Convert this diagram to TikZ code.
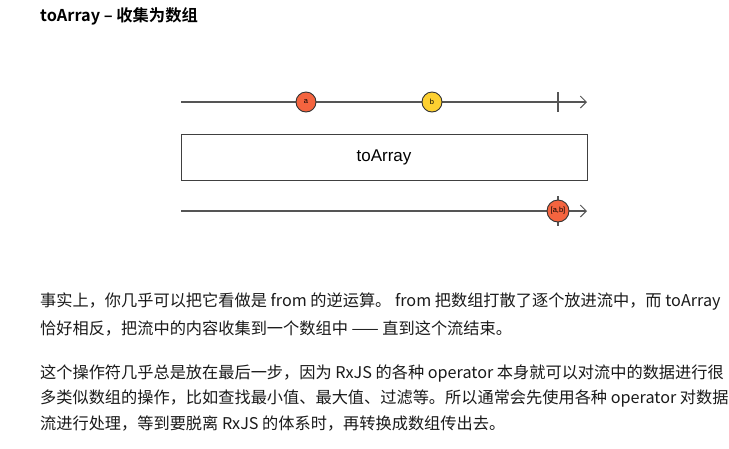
\documentclass[tikz,border=0pt]{standalone}
\usepackage{fontspec}
\setmainfont{Noto Sans CJK SC}[BoldFont={Noto Sans CJK SC Bold}]
\newfontfamily\lsans{Liberation Sans}
\usetikzlibrary{arrows.meta}
\definecolor{lineg}{HTML}{555555}
\definecolor{ballred}{HTML}{F4643F}
\definecolor{ballyel}{HTML}{FDD031}
\definecolor{txt}{HTML}{1A1A1A}
\tikzset{
  timeline/.style={draw=lineg, line width=1.1pt, -{Straight Barb[length=6pt,width=12pt,line width=1pt]}},
  tick/.style={draw=lineg, line width=1.1pt},
  ball/.style={circle, draw=black!80, line width=0.9pt, minimum size=20pt, inner sep=0pt, font=\lsans\fontsize{7.5}{8}\selectfont},
  opbox/.style={draw=black!75, line width=0.9pt, minimum width=406pt, minimum height=46pt, inner sep=0pt, font=\lsans\fontsize{17}{19}\selectfont},
  para/.style={anchor=west, inner sep=0pt, text=txt, font=\fontsize{16.2}{18}\selectfont},
  titlet/.style={anchor=west, inner sep=0pt, text=black, font=\bfseries\fontsize{16.3}{18}\selectfont}
}
\begin{document}
\begin{tikzpicture}[x=1pt,y=-1pt]
\useasboundingbox[fill=white] (0,0) rectangle (729,448);
\node[titlet] (title) at (40,16) {toArray – 收集为数组};
% top timeline
\coordinate (t1s) at (181,102);
\coordinate (t1e) at (587,102);
\draw[timeline] (t1s) -- (t1e);
\coordinate (c1a) at (558,92);
\coordinate (c1b) at (558,112);
\draw[tick] (c1a) -- (c1b);
\node[ball, fill=ballred] (a) at (306,102) {a};
\node[ball, fill=ballyel] (b) at (432,102) {b};
% operator box
\node[opbox] (op) at (384,157) {toArray};
% bottom timeline
\coordinate (t2s) at (181,211);
\coordinate (t2e) at (587,211);
\draw[timeline] (t2s) -- (t2e);
\coordinate (c2a) at (558,196);
\coordinate (c2b) at (558,226);
\draw[tick] (c2a) -- (c2b);
\node[ball, fill=ballred, minimum size=22pt] (ab) at (558,211) {[a,b]};
% paragraphs
\node[para] (p1) at (40,302) {事实上，你几乎可以把它看做是 from 的逆运算。 from 把数组打散了逐个放进流中，而 toArray};
\node[para] (p2) at (40,328) {恰好相反，把流中的内容收集到一个数组中 —— 直到这个流结束。};
\node[para] (p3) at (40,373) {这个操作符几乎总是放在最后一步，因为 RxJS 的各种 operator 本身就可以对流中的数据进行很};
\node[para] (p4) at (40,398) {多类似数组的操作，比如查找最小值、最大值、过滤等。所以通常会先使用各种 operator 对数据};
\node[para] (p5) at (40,423) {流进行处理，等到要脱离 RxJS 的体系时，再转换成数组传出去。};
\end{tikzpicture}
\end{document}
